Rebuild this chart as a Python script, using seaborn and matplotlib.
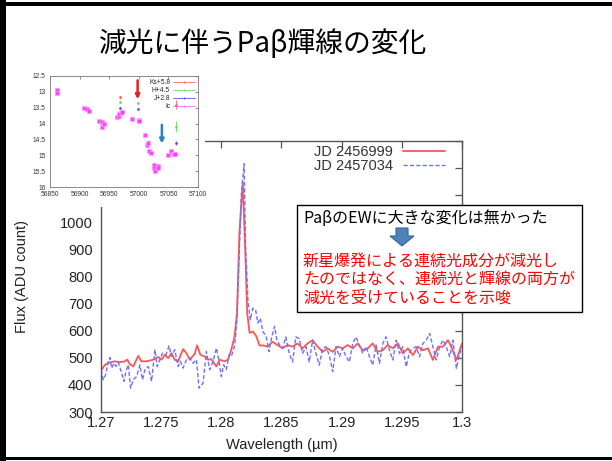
import numpy as np
import pandas as pd
import matplotlib
matplotlib.use("Agg")
import matplotlib.pyplot as plt
import seaborn as sns
from matplotlib.patches import Rectangle, Polygon
from matplotlib.lines import Line2D

# ---------------- data ----------------
red_wl = [1.27000, 1.27033, 1.27075, 1.27116, 1.27157, 1.27199, 1.27218, 1.27240, 1.27268, 1.27309,
          1.27337, 1.27378, 1.27434, 1.27475, 1.27503, 1.27530, 1.27558, 1.27586, 1.27613, 1.27641,
          1.27682, 1.27710, 1.27738, 1.27779, 1.27798, 1.27826, 1.27862, 1.27889, 1.27917, 1.27959,
          1.27986, 1.28028, 1.28055, 1.28083, 1.28110, 1.28130, 1.28150, 1.28178, 1.28200, 1.28215,
          1.28235, 1.28262, 1.28290, 1.28318, 1.28345, 1.28383, 1.28425, 1.28467, 1.28508, 1.28550,
          1.28592, 1.28633, 1.28675, 1.28717, 1.28758, 1.28800, 1.28842, 1.28883, 1.28925, 1.28967,
          1.29008, 1.29050, 1.29092, 1.29133, 1.29175, 1.29217, 1.29258, 1.29300, 1.29342, 1.29383,
          1.29425, 1.29467, 1.29508, 1.29550, 1.29592, 1.29633, 1.29675, 1.29717, 1.29758, 1.29800,
          1.29842, 1.29883, 1.29911, 1.29953, 1.30000]
red_flux = [453, 474, 483, 487, 484, 487, 493, 477, 468, 507,
            487, 487, 493, 503, 493, 511, 499, 517, 493, 487,
            532, 517, 493, 515, 546, 511, 505, 493, 495, 468,
            493, 487, 493, 530, 579, 665, 960, 1148, 880, 665,
            592, 597, 580, 545, 546, 541, 559, 547, 535, 547,
            541, 553, 535, 553, 565, 541, 522, 535, 522, 541,
            535, 547, 535, 553, 528, 535, 553, 522, 528, 547,
            535, 553, 516, 535, 510, 541, 528, 535, 492, 541,
            541, 565, 541, 492, 553]

blue_wl = [1.27000, 1.27019, 1.27039, 1.27061, 1.27075, 1.27088, 1.27108, 1.27124, 1.27144, 1.27171,
           1.27191, 1.27207, 1.27227, 1.27246, 1.27268, 1.27296, 1.27323, 1.27345, 1.27365, 1.27392,
           1.27420, 1.27448, 1.27467, 1.27489, 1.27511, 1.27539, 1.27566, 1.27586, 1.27613, 1.27641,
           1.27660, 1.27682, 1.27710, 1.27738, 1.27765, 1.27793, 1.27815, 1.27848, 1.27876, 1.27903,
           1.27931, 1.27959, 1.27981, 1.28000, 1.28019, 1.28041, 1.28064, 1.28083, 1.28110, 1.28130,
           1.28146, 1.28166, 1.28189, 1.28202, 1.28221, 1.28240, 1.28262, 1.28285, 1.28304, 1.28323,
           1.28345, 1.28373, 1.28395, 1.28417, 1.28442, 1.28461, 1.28483, 1.28508, 1.28536, 1.28564,
           1.28592, 1.28619, 1.28647, 1.28675, 1.28703, 1.28731, 1.28758, 1.28786, 1.28814, 1.28842,
           1.28869, 1.28897, 1.28925, 1.28953, 1.28981, 1.29008, 1.29036, 1.29064, 1.29092, 1.29119,
           1.29147, 1.29175, 1.29203, 1.29231, 1.29258, 1.29286, 1.29314, 1.29342, 1.29369, 1.29397,
           1.29425, 1.29453, 1.29481, 1.29508, 1.29536, 1.29564, 1.29592, 1.29619, 1.29647, 1.29675,
           1.29703, 1.29731, 1.29758, 1.29786, 1.29814, 1.29842, 1.29869, 1.29897, 1.29925, 1.29953,
           1.29981, 1.30000]
blue_flux = [456, 419, 438, 487, 501, 462, 480, 468, 483, 444,
             413, 450, 474, 388, 419, 431, 474, 419, 456, 468,
             413, 530, 468, 493, 517, 511, 544, 505, 530, 468,
             487, 462, 493, 499, 480, 493, 388, 407, 523, 456,
             487, 536, 487, 431, 474, 456, 511, 505, 542, 640,
             849, 1100, 1216, 910, 714, 640, 683, 677, 628, 646,
             597, 579, 523, 573, 616, 567, 548, 535, 577, 516,
             485, 577, 571, 516, 541, 485, 565, 516, 473, 535,
             541, 510, 449, 541, 504, 535, 504, 485, 553, 577,
             547, 516, 541, 504, 473, 547, 479, 553, 577, 528,
             492, 565, 516, 541, 467, 522, 535, 541, 504, 553,
             565, 590, 541, 492, 541, 565, 541, 504, 565, 461,
             516, 541]

series_labels = ["JD 2456999", "JD 2457034"]
x_ticks = [1.27, 1.275, 1.28, 1.285, 1.29, 1.295, 1.30]
x_ticklabels = ["1.27", "1.275", "1.28", "1.285", "1.29", "1.295", "1.3"]
y_ticks = [300, 400, 500, 600, 700, 800, 900, 1000, 1100, 1200, 1300]
# 1100-1300 labels are hidden behind the inset picture in the reference
y_ticklabels = ["300", "400", "500", "600", "700", "800", "900", "1000", "", "", ""]

# inset light curve
ic_jd = [56862, 56862, 56908, 56912, 56916, 56933, 56937, 56938, 56941, 56964, 56966, 56967,
         56970, 56972, 56988, 57000, 57000, 57010, 57014, 57016, 57018, 57020, 57025, 57026,
         57027, 57033, 57033, 57049, 57055, 57057, 57059, 57061]
ic_mag = [12.95, 13.03, 13.50, 13.55, 13.60, 13.92, 13.95, 14.10, 14.02, 13.78, 13.75, 13.70,
          13.68, 13.65, 13.85, 13.88, 13.93, 14.37, 14.66, 14.60, 14.87, 14.93, 15.32, 15.40,
          15.50, 15.35, 15.40, 15.00, 14.87, 14.95, 14.97, 14.95]
ks_jd = [56968, 57062]
ks_mag = [13.17, 13.40]
ks_err = [0.04, 0.14]
h_jd = [56968, 56998, 57062]
h_mag = [13.32, 13.35, 14.10]
h_err = [0.04, 0.04, 0.18]
j_jd = [56968, 56998, 57062]
j_mag = [13.52, 13.55, 14.62]
j_err = [0.03, 0.03, 0.07]
band_labels = ["Ks+5.8", "H+4.5", "J+2.8", "Ic"]
ins_xticks = [56850, 56900, 56950, 57000, 57050, 57100]
ins_yticks = [12.5, 13, 13.5, 14, 14.5, 15, 15.5, 16]
ins_yticklabels = ["12.5", "13", "13.5", "14", "14.5", "15", "15.5", "16"]

title = "減光に伴うPaβ輝線の変化"
note_black = "PaβのEWに大きな変化は無かった"
note_red = ["新星爆発による連続光成分が減光し",
            "たのではなく、連続光と輝線の両方が",
            "減光を受けていることを示唆"]

# ---------------- style ----------------
sns.set_theme(style="white")
plt.rcParams["font.family"] = ["Liberation Sans", "Noto Sans CJK JP", "DejaVu Sans"]
CJK = ["Noto Sans CJK JP", "DejaVu Sans"]

W, H = 612, 461
fig = plt.figure(figsize=(6.12, 4.61), dpi=100)
fig.patch.set_facecolor("white")


def fx(px):
    return px / W


def fy(py):
    return 1 - py / H


def frect(x0, y0, x1, y1):
    return [fx(x0), fy(y1), fx(x1) - fx(x0), fy(y0) - fy(y1)]


# ---------------- main spectrum ----------------
ax = fig.add_axes(frect(101, 141, 462, 412))
df_red = pd.DataFrame({"wl": red_wl, "flux": red_flux})
df_blue = pd.DataFrame({"wl": blue_wl, "flux": blue_flux})
sns.lineplot(data=df_red, x="wl", y="flux", ax=ax, color="#ff5555", lw=1.3,
             estimator=None, sort=False, label=series_labels[0])
sns.lineplot(data=df_blue, x="wl", y="flux", ax=ax, color="#7070ff", lw=1.0,
             estimator=None, sort=False, label=series_labels[1], linestyle=(0, (3, 1.6)))
ax.set_xlim(1.27, 1.30)
ax.set_ylim(300, 1300)
ax.set_xticks(x_ticks)
ax.set_xticklabels(x_ticklabels)
ax.set_yticks(y_ticks)
ax.set_yticklabels(y_ticklabels)
ax.tick_params(direction="in", length=5, width=0.9, color="#555555", top=True, right=True,
               labelsize=10.5, labelcolor="#222222")
ax.tick_params(axis="x", pad=3)
ax.tick_params(axis="y", pad=6)
for s in ax.spines.values():
    s.set_color("#555555")
    s.set_linewidth(1.0)
ax.set_xlabel("Wavelength (µm)", fontsize=10.5, color="#222222")
ax.set_ylabel("Flux (ADU count)", fontsize=10.5, color="#222222")
ax.xaxis.set_label_coords(0.5, -0.097)
ax.yaxis.set_label_coords(-0.20, 0.5)
leg = ax.legend(loc="upper right", bbox_to_anchor=((445 - 101) / 361, (412 - 145) / 271),
                frameon=False, markerfirst=False, fontsize=10.5, handlelength=2.9,
                handletextpad=0.7, labelspacing=0.0, borderpad=0, borderaxespad=0)
for t in leg.get_texts():
    t.set_color("#333333")

# white backdrop for inset picture
fig.patches.append(Rectangle((fx(7), fy(207)), fx(205) - fx(7), fy(64) - fy(207),
                             transform=fig.transFigure, fc="white", ec="none", zorder=5))

# ---------------- inset light curve ----------------
ins = fig.add_axes(frect(50, 76, 198, 187))
ins.set_zorder(6)
ins.set_facecolor("white")
df_ic = pd.DataFrame({"jd": ic_jd, "mag": ic_mag})
sns.scatterplot(data=df_ic, x="jd", y="mag", ax=ins, color="#ff33ff", s=6, marker="s",
                edgecolor="#ff99ff", linewidth=0.6, alpha=0.9, legend=False)
ins.errorbar(ks_jd, ks_mag, yerr=ks_err, fmt=".", ms=2, color="#ff6666", elinewidth=0.6, capsize=0)
ins.errorbar(h_jd, h_mag, yerr=h_err, fmt=".", ms=2, color="#66dd66", elinewidth=0.6, capsize=0)
ins.errorbar(j_jd, j_mag, yerr=j_err, fmt=".", ms=2, color="#5555ff", elinewidth=0.6, capsize=0)
ins.annotate("", xy=(56998, 13.32), xytext=(56998, 12.55),
             arrowprops=dict(arrowstyle="-|>", color="#e42222", lw=1.8, mutation_scale=6))
ins.annotate("", xy=(57039, 14.72), xytext=(57039, 13.95),
             arrowprops=dict(arrowstyle="-|>", color="#2f80c0", lw=1.8, mutation_scale=6))
ins.set_xlim(56850, 57100)
ins.set_ylim(16, 12.5)
ins.set_xticks(ins_xticks)
ins.set_yticks(ins_yticks)
ins.set_yticklabels(ins_yticklabels)
ins.set_xlabel("")
ins.set_ylabel("")
ins.tick_params(direction="in", length=2, width=0.5, color="#666666", top=True, right=True,
                labelsize=4.8, labelcolor="#333333")
ins.tick_params(axis="x", pad=3)
ins.tick_params(axis="y", pad=3)
for s in ins.spines.values():
    s.set_color("#777777")
    s.set_linewidth(0.6)
hand = [Line2D([], [], color="#ff6666", lw=0.6, marker="|", ms=2),
        Line2D([], [], color="#66dd66", lw=0.6, marker="|", ms=2),
        Line2D([], [], color="#5555ff", lw=0.6, marker="|", ms=2),
        Line2D([], [], color="#ff66ff", lw=0.6, marker="|", ms=2)]
ileg = ins.legend(hand, band_labels, loc="upper right", frameon=False, markerfirst=False,
                  fontsize=4.8, handlelength=3.2, handletextpad=0.5, labelspacing=0.15,
                  borderpad=0.2, borderaxespad=0.3)

# ---------------- annotation box ----------------
fig.patches.append(Rectangle((fx(297), fy(312)), fx(582) - fx(297), fy(205) - fy(312),
                             transform=fig.transFigure, fc="white", ec="black", lw=1.0, zorder=7))
fig.text(fx(303), fy(218), note_black, fontsize=11.5, family=CJK, color="black",
         ha="left", va="center", zorder=8)
arrow_px = [(396, 228), (408, 228), (408, 236), (414, 236), (402, 246), (390, 236), (396, 236)]
fig.patches.append(Polygon([(fx(a), fy(b)) for a, b in arrow_px], closed=True,
                           transform=fig.transFigure, fc="#4f81bd", ec="#3a6391", lw=0.8, zorder=8))
for i, line in enumerate(note_red):
    fig.text(fx(303), fy(261 + 18.5 * i), line, fontsize=11.5, family=CJK, color="#ff0000",
             ha="left", va="center", zorder=8)

# ---------------- title & slide frame ----------------
fig.text(fx(263), fy(44), title, fontsize=20, family=CJK, color="black", ha="center", va="center")
for (x0, y0, x1, y1) in [(0, 0, 6, 461), (0, 2, 612, 6), (0, 457, 612, 460)]:
    fig.patches.append(Rectangle((fx(x0), fy(y1)), fx(x1) - fx(x0), fy(y0) - fy(y1),
                                 transform=fig.transFigure, fc="black", ec="none", zorder=9))

fig.savefig("out.png", dpi=100, facecolor="white")
